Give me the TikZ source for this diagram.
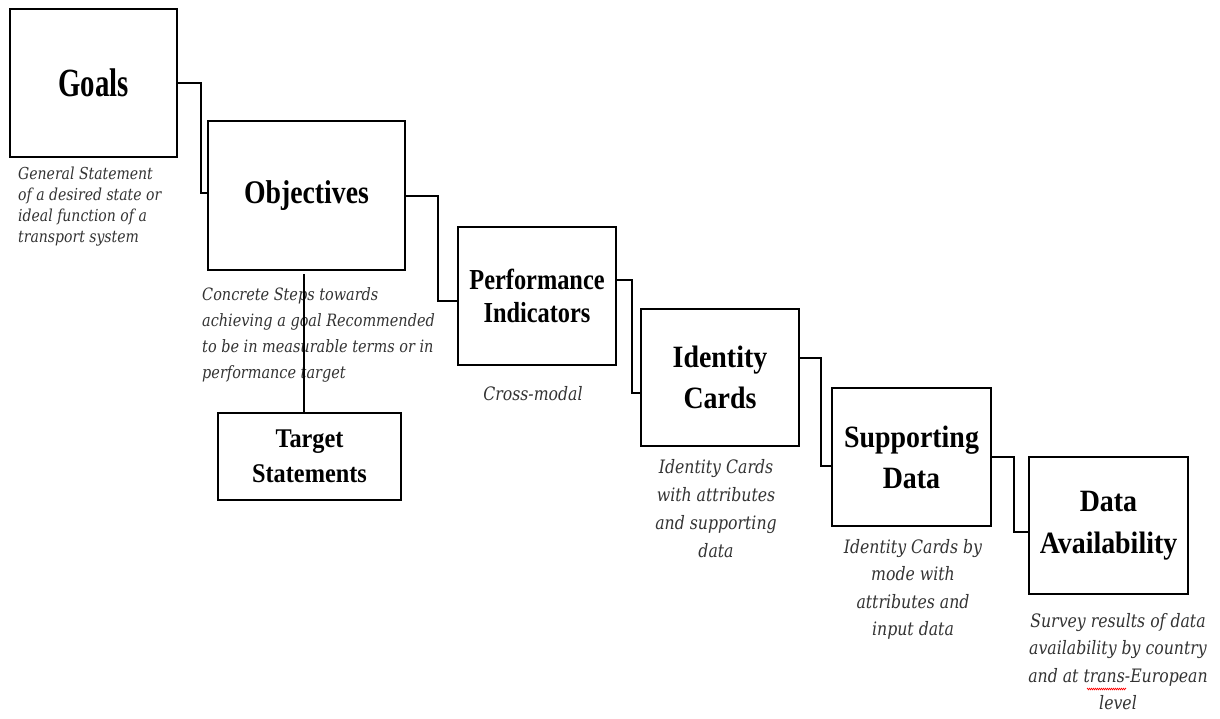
\documentclass[tikz,border=0pt]{standalone}
\usepackage{fontspec}
\setmainfont{Liberation Serif}
\newfontfamily\tfA[FakeStretch=0.72]{Liberation Serif}
\newfontfamily\tfB[FakeStretch=0.84]{Liberation Serif}
\newfontfamily\tfC[FakeStretch=0.9]{Liberation Serif}
\newfontfamily\dfont[FakeStretch=0.85]{DejaVu Serif}
\usetikzlibrary{calc,decorations.pathmorphing}
\begin{document}
\begin{tikzpicture}[x=1pt,y=-1pt,
  box/.style={draw, line width=2pt, inner sep=0pt, align=center},
  link/.style={line width=2pt},
  desc/.style={inner sep=0pt, text=black!80}]
\useasboundingbox[fill=white] (0,0) rectangle (1220,718);

% boxes
\node[box, minimum width=167pt, minimum height=148pt, font=\tfA\bfseries\fontsize{40}{44}\selectfont] (goals) at (93.5,83) {Goals};
\node[box, minimum width=197pt, minimum height=149pt, font=\tfB\bfseries\fontsize{33}{38}\selectfont] (obj) at (306.5,195.5) {Objectives};
\node[box, minimum width=158pt, minimum height=138pt, font=\tfB\bfseries\fontsize{29}{33}\selectfont] (pi) at (537,296) {Performance\\Indicators};
\node[box, minimum width=183pt, minimum height=87pt, font=\tfC\bfseries\fontsize{27}{35}\selectfont] (target) at (309.5,456.5) {Target\\Statements};
\node[box, minimum width=158pt, minimum height=137pt, font=\tfC\bfseries\fontsize{31}{41}\selectfont] (id) at (720,377.5) {Identity\\Cards};
\node[box, minimum width=159pt, minimum height=138pt, font=\tfC\bfseries\fontsize{31}{41}\selectfont] (sup) at (911.5,457) {Supporting\\Data};
\node[box, minimum width=159pt, minimum height=137pt, font=\tfC\bfseries\fontsize{31}{42}\selectfont] (da) at (1108.5,525.5) {Data\\Availability};

% descriptions
\node[desc, anchor=north west, align=left, font=\dfont\itshape\fontsize{16.5}{21}\selectfont] (dgoals) at (18,167)
  {General Statement\\of a desired state or\\ideal function of a\\transport system};
\node[desc, anchor=north west, align=left, font=\dfont\itshape\fontsize{17}{26}\selectfont] (dobj) at (202,287)
  {Concrete Steps towards\\achieving a goal Recommended\\to be in measurable terms or in\\performance target};
\node[desc, anchor=north, align=center, font=\dfont\itshape\fontsize{18.5}{27}\selectfont] (dpi) at (533,386)
  {Cross-modal};
\node[desc, anchor=north, align=center, font=\dfont\itshape\fontsize{18.5}{28}\selectfont] (did) at (716,459)
  {Identity Cards\\with attributes\\and supporting\\data};
\node[desc, anchor=north, align=center, font=\dfont\itshape\fontsize{18.5}{27.5}\selectfont] (dsup) at (913,539)
  {Identity Cards by\\mode with\\attributes and\\input data};
\node[desc, anchor=north, align=center, font=\dfont\itshape\fontsize{18.5}{27.5}\selectfont] (dda) at (1118,613)
  {Survey results of data\\availability by country\\and at trans-European\\level};

% spell-check squiggle under "trans"
\draw[red, line width=0.6pt, decorate, decoration={zigzag, segment length=2pt, amplitude=0.8pt}] (1087,689) -- (1126,689);

% connectors
\draw[link] (goals.east) -- ++(23,0) |- ([yshift=2.5pt]obj.west);
\draw[link] (obj.east) -- ++(32,0) |- ([yshift=-5pt]pi.west);
\draw[link] ([yshift=16pt]pi.east) -- ++(15,0) |- ([yshift=-15.5pt]id.west);
\draw[link] ([yshift=19.5pt]id.east) -- ++(21,0) |- ([yshift=-9pt]sup.west);
\draw[link] (sup.east) -- ++(22,0) |- ([yshift=-6.5pt]da.west);
\draw[link] ([xshift=-2.5pt,yshift=-3pt]obj.south) -- ([xshift=-5.5pt]target.north);
\end{tikzpicture}
\end{document}
